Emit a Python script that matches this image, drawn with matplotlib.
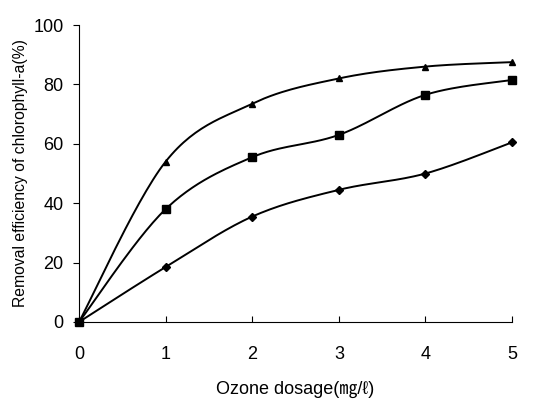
import matplotlib
matplotlib.use("Agg")
import matplotlib.pyplot as plt
import numpy as np

plt.rcParams['font.family'] = ['Liberation Sans', 'Noto Sans CJK SC', 'DejaVu Sans']

# ozone dosage (mg/l)
dose = [0, 1, 2, 3, 4, 5]
# removal efficiency of chlorophyll-a (%)
tri = [0, 54, 73.5, 82, 86, 87.5]
sq = [0, 38, 55.5, 63, 76.5, 81.5]
dia = [0, 18.5, 35.5, 44.5, 50, 60.5]

xticks = [0, 1, 2, 3, 4, 5]
yticks = [0, 20, 40, 60, 80, 100]


# smooth line through the points, excel style bezier
def smooth(x, y, n=30):
    p = np.column_stack([x, y]).astype(float)
    p = np.vstack([p[0], p, p[-1]])
    pts = []
    for i in range(1, len(p)-2):
        p0, p1, p2, p3 = p[i-1], p[i], p[i+1], p[i+2]
        c1 = p1 + (p2 - p0) / 6
        c2 = p2 - (p3 - p1) / 6
        t = np.linspace(0, 1, n)[:, None]
        b = (1-t)**3*p1 + 3*(1-t)**2*t*c1 + 3*(1-t)*t**2*c2 + t**3*p2
        pts.append(b)
    pts = np.vstack(pts)
    return pts[:, 0], pts[:, 1]


fig = plt.figure(figsize=(5.51, 4.0), dpi=100)
ax = fig.add_axes([0.1434, 0.195, 0.786, 0.7425])

for y, m, ms in ((tri, '^', 5), (sq, 's', 6), (dia, 'D', 4.5)):
    sx, sy = smooth(dose, y)
    ax.plot(sx, sy, color='black', lw=1.4, clip_on=False)
    ax.plot(dose, y, m, color='black', ms=ms, clip_on=False, zorder=3)

ax.set_xlim(0, 5)
ax.set_ylim(0, 100)
ax.set_xticks(xticks)
ax.set_yticks(yticks)
ax.spines['top'].set_visible(False)
ax.spines['right'].set_visible(False)
ax.tick_params(axis='x', direction='in', length=4, pad=17, labelsize=13)
ax.tick_params(axis='y', direction='out', length=4, pad=7, labelsize=13)
ax.set_xlabel('Ozone dosage(㎎/ℓ)', fontsize=13, labelpad=13)
ax.set_ylabel('Removal efficiency of chlorophyll-a(%)', fontsize=11.3, labelpad=4)

fig.savefig('out.png', dpi=100)
